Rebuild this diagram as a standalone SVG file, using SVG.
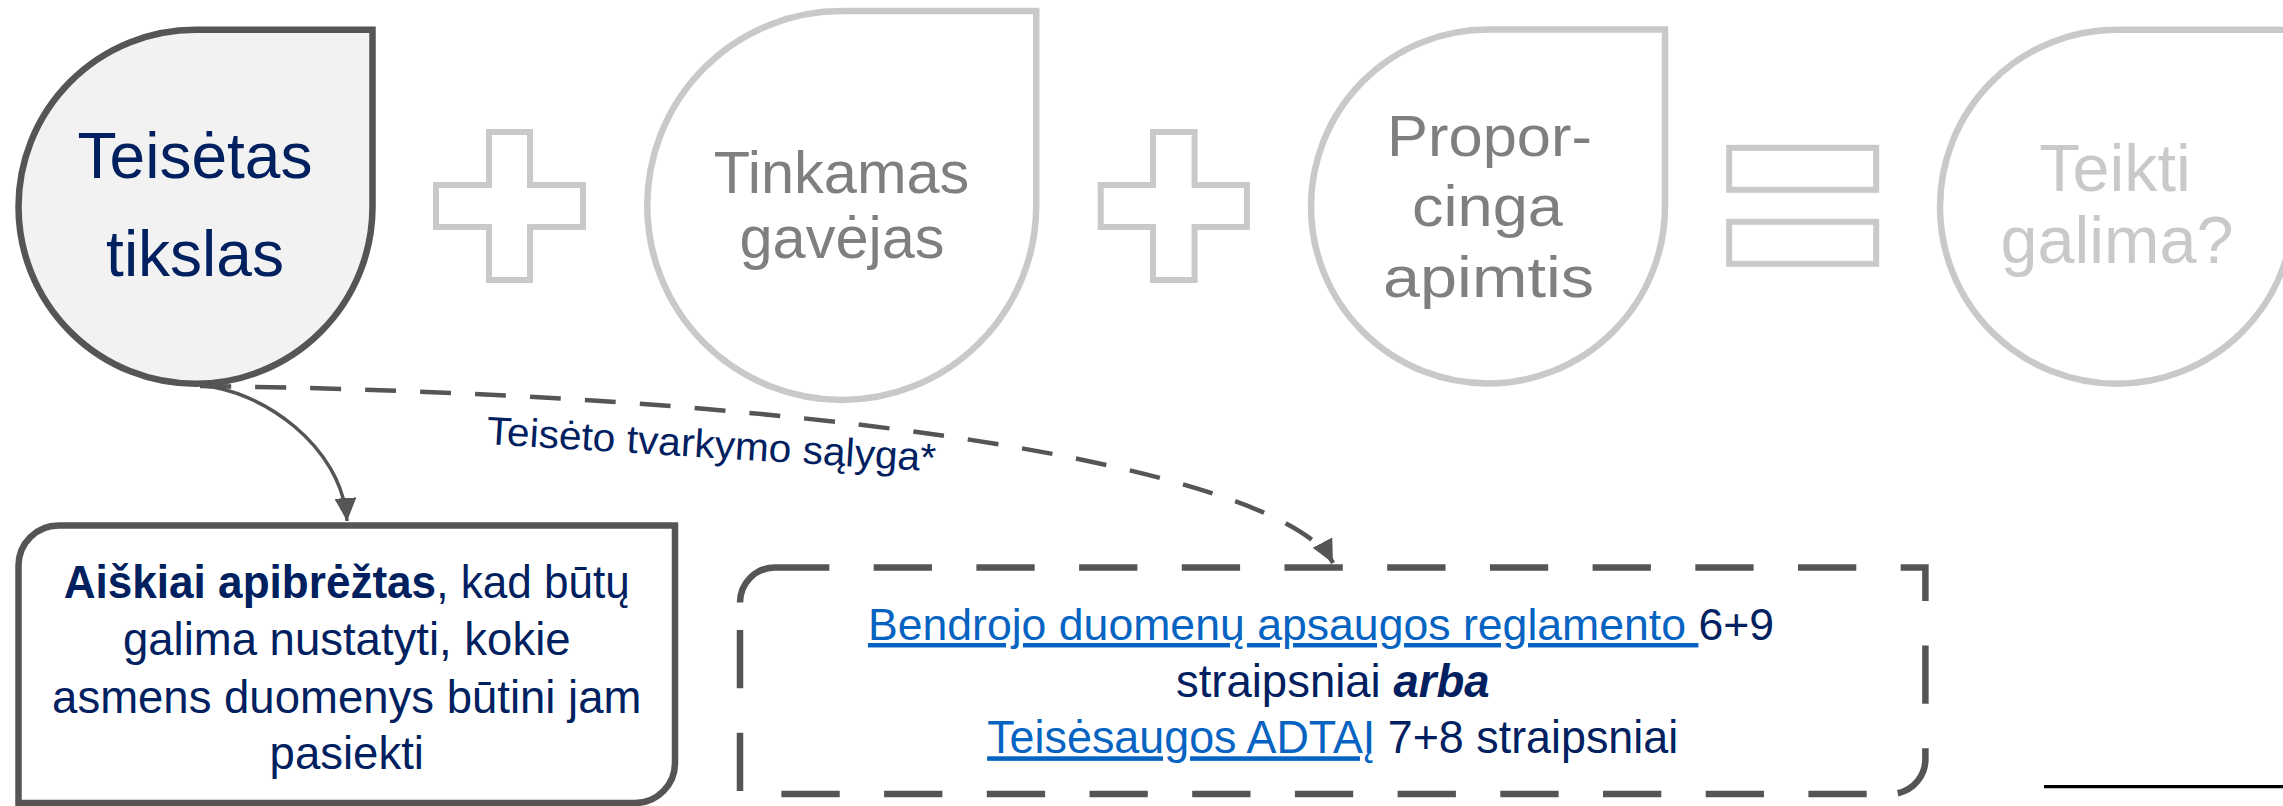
<svg xmlns="http://www.w3.org/2000/svg" width="2283" height="806" viewBox="0 0 2283 806">
<style>
text{font-family:"Liberation Sans",Arial,sans-serif}
.n1{fill:#f2f2f2;stroke:#555555;stroke-width:6.5}
.ng{fill:none;stroke:#c9c9c9;stroke-width:6.5}
.op{fill:none;stroke:#c9c9c9;stroke-width:6}
.navy{fill:#002060}
.gray{fill:#7f7f7f}
.light{fill:#c9c9c9}
.link{fill:#0563c1;text-decoration:underline}
.box{fill:none;stroke:#555555;stroke-width:6.5}
.dbox{fill:none;stroke:#555555;stroke-width:6.5;stroke-dasharray:58.3 44.4}
.conn{fill:none;stroke:#555555}
</style>
<defs>
<marker id="arrow" markerUnits="userSpaceOnUse" markerWidth="23" markerHeight="22" viewBox="0 0 23 22" refX="23" refY="11" orient="auto">
<path d="M0,0 L23,11 L0,22 Z" fill="#555555"/>
</marker>
</defs>

<g id="node-teisetas-tikslas">
<path class="n1" d="M195.5,29.75 H372.5 V206.75 A177,177 0 0 1 195.5,383.75 A177,177 0 0 1 18.5,206.75 A177,177 0 0 1 195.5,29.75 Z"/>
<text class="navy" x="195" y="177.7" font-size="64" text-anchor="middle">Teisėtas</text>
<text class="navy" x="195" y="276" font-size="64" text-anchor="middle">tikslas</text>
</g>

<g id="op-plus-1">
<path class="op" d="M489,132 H530 V185 H583 V227 H530 V280 H489 V227 H436 V185 H489 Z"/>
</g>

<g id="node-tinkamas-gavejas">
<path class="ng" d="M841.75,11 H1036.25 V205.5 A194.5,194.5 0 0 1 841.75,400 A194.5,194.5 0 0 1 647.25,205.5 A194.5,194.5 0 0 1 841.75,11 Z"/>
<text class="gray" x="841.5" y="193.3" font-size="59.5" text-anchor="middle">Tinkamas</text>
<text class="gray" x="842" y="257.7" font-size="59.5" text-anchor="middle">gavėjas</text>
</g>

<g id="op-plus-2">
<path class="op" d="M1153,132 H1194.6 V185 H1246.9 V227 H1194.6 V280 H1153 V227 H1100.7 V185 H1153 Z"/>
</g>

<g id="node-proporcinga-apimtis">
<path class="ng" d="M1488,29.5 H1665 V206.5 A177,177 0 0 1 1488,383.5 A177,177 0 0 1 1311,206.5 A177,177 0 0 1 1488,29.5 Z"/>
<text class="gray" x="1489.5" y="156" font-size="58" text-anchor="middle" textLength="205" lengthAdjust="spacingAndGlyphs">Propor-</text>
<text class="gray" x="1487.5" y="226" font-size="58" text-anchor="middle" textLength="151" lengthAdjust="spacingAndGlyphs">cinga</text>
<text class="gray" x="1488.5" y="297" font-size="58" text-anchor="middle" textLength="211" lengthAdjust="spacingAndGlyphs">apimtis</text>
</g>

<g id="op-equals">
<rect class="op" x="1729.2" y="147.8" width="147" height="42"/>
<rect class="op" x="1729.2" y="221.8" width="147" height="42"/>
</g>

<g id="node-teikti-galima">
<path class="ng" d="M2117,29.75 H2294 V206.75 A177,177 0 0 1 2117,383.75 A177,177 0 0 1 1940,206.75 A177,177 0 0 1 2117,29.75 Z"/>
<text class="light" x="2115" y="190.7" font-size="66.5" text-anchor="middle">Teikti</text>
<text class="light" x="2117" y="263.3" font-size="66.5" text-anchor="middle">galima?</text>
</g>

<g id="connectors">
<path class="conn" stroke-width="3.5" d="M203,386 C260,390 342,445 347,521" marker-end="url(#arrow)"/>
<path class="conn" stroke-width="4.5" stroke-dasharray="31 24" d="M200,386 C900,395 1290,480 1333,563" marker-end="url(#arrow)"/>
<text class="navy" x="486" y="444" font-size="39.5" transform="rotate(3.5 486 444)" textLength="450" lengthAdjust="spacingAndGlyphs">Teisėto tvarkymo sąlyga*</text>
</g>

<g id="node-apibreztas">
<path class="box" d="M58.5,525.5 H675 V763 A40,40 0 0 1 635,803 H18.5 V565.5 A40,40 0 0 1 58.5,525.5 Z"/>
<text class="navy" x="346.75" y="598" font-size="45.5" text-anchor="middle" textLength="566" lengthAdjust="spacingAndGlyphs"><tspan font-weight="bold">Aiškiai apibrėžtas</tspan>, kad būtų</text>
<text class="navy" x="346.75" y="655" font-size="45.5" text-anchor="middle">galima nustatyti, kokie</text>
<text class="navy" x="346.75" y="712.5" font-size="45.5" text-anchor="middle">asmens duomenys būtini jam</text>
<text class="navy" x="346.75" y="768.5" font-size="45.5" text-anchor="middle">pasiekti</text>
</g>

<g id="node-teisetas-salyga">
<path class="box" d="M740,602.5 A35,35 0 0 1 775,567.5 H829.3"/>
<path class="dbox" d="M873.7,567.5 H1925.4 V759 A35,35 0 0 1 1890.4,794"/>
<path class="dbox" stroke-dashoffset="79" d="M1890.4,794 H740 V602.5"/>
<text class="navy" x="1321" y="640" font-size="44.6" text-anchor="middle"><tspan class="link">Bendrojo duomenų apsaugos reglamento </tspan>6+9</text>
<text class="navy" x="1332.7" y="696.7" font-size="45.5" text-anchor="middle">straipsniai <tspan font-weight="bold" font-style="italic">arba</tspan></text>
<text class="navy" x="1332.7" y="753.3" font-size="45.5" text-anchor="middle" textLength="691" lengthAdjust="spacingAndGlyphs"><tspan class="link">Teisėsaugos ADTAĮ</tspan> 7+8 straipsniai</text>
</g>

<line x1="2044" y1="786.7" x2="2283" y2="786.7" stroke="#000000" stroke-width="3.2"/>
</svg>
